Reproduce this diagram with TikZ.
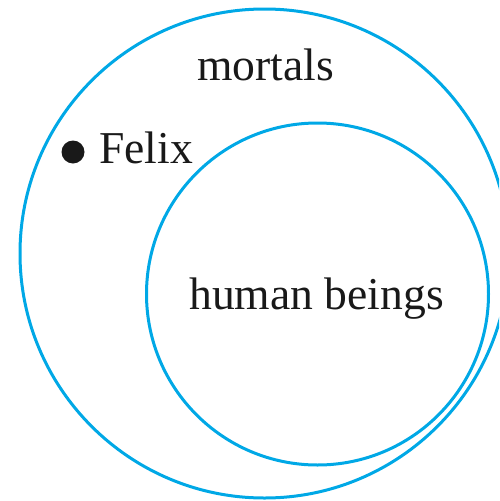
\documentclass[tikz,border=0pt]{standalone}
\usepackage{fontspec}
\setmainfont{Liberation Serif}
\definecolor{setblue}{RGB}{0,168,230}
\tikzset{
  setcircle/.style={circle, draw=setblue, line width=3pt, inner sep=0pt},
  label45/.style={anchor=base west, inner sep=0pt, font=\fontsize{45.6}{54}\selectfont, text=black!90},
}
\begin{document}
\begin{tikzpicture}[x=1pt,y=-1pt]
  \path[use as bounding box, clip] (0,0) rectangle (499,501);
  \node[setcircle, minimum size=489pt] (outer) at (264.5,253.5) {};
  \node[setcircle, minimum size=342pt] (inner) at (317.5,294) {};
  \node[label45] (mortals) at (197,80) {mortals};
  \node[label45] (human) at (189,309) {human beings};
  \node[label45] (felix) at (99,163) {Felix};
  \node[circle, fill=black!90, minimum size=23pt, inner sep=0pt] (dot) at (73,152) {};
\end{tikzpicture}
\end{document}
